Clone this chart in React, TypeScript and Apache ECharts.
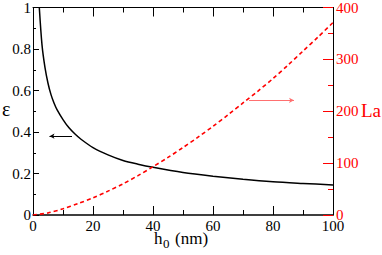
import React, { useEffect, useRef } from "react";
import * as echarts from "echarts";

const h0Eps = [2.1, 3, 4, 5, 6, 7, 8, 10, 12, 14, 16, 20, 25, 30, 35, 40, 50, 60, 70, 80, 90, 100];
const epsValues = [1.0, 0.82, 0.71, 0.635, 0.58, 0.54, 0.508, 0.46, 0.42, 0.39, 0.365, 0.325, 0.29, 0.263, 0.245, 0.23, 0.205, 0.187, 0.172, 0.16, 0.152, 0.145];
const h0La = [0, 5, 10, 15, 20, 25, 30, 35, 40, 45, 50, 55, 60, 65, 70, 75, 80, 85, 90, 95, 100];
const laValues = [0, 4, 12, 22, 33, 46, 60, 76, 93, 111, 130, 150, 171, 193, 216, 239, 263, 289, 316, 343, 371];
const xTicks = { min: 0, max: 100, interval: 20 };
const epsAxis = { min: 0, max: 1, interval: 0.2 };
const laAxis = { min: 0, max: 400, interval: 100 };

const SERIF = "Liberation Serif";

export default function App() {
  const ref = useRef<HTMLDivElement>(null);
  useEffect(() => {
    if (!ref.current) return;
    const chart = echarts.init(ref.current, null, { renderer: "svg" });
    const epsData = h0Eps.map((x, i) => [x, epsValues[i]]);
    const laData = h0La.map((x, i) => [x, laValues[i]]);
    chart.setOption({
      animation: false,
      backgroundColor: "#fff",
      textStyle: { fontFamily: SERIF },
      grid: { left: 33, right: 49, top: 6, bottom: 40, containLabel: false },
      xAxis: [
        {
          type: "value",
          position: "bottom",
          ...xTicks,
          axisLine: { show: true, lineStyle: { color: "#000", width: 1.5 } },
          axisTick: { show: true, inside: true, length: 9, lineStyle: { color: "#000" } },
          minorTick: { show: true, splitNumber: 2, length: 5, lineStyle: { color: "#000" } },
          splitLine: { show: false },
          axisLabel: { color: "#000", fontFamily: SERIF, fontSize: 15, margin: 3 },
        },
        {
          type: "value",
          position: "top",
          ...xTicks,
          axisLine: { show: true, onZero: false, lineStyle: { color: "#000", width: 1 } },
          axisTick: { show: true, inside: true, length: 9, lineStyle: { color: "#000" } },
          minorTick: { show: true, splitNumber: 2, length: 5, lineStyle: { color: "#000" } },
          splitLine: { show: false },
          axisLabel: { show: false },
        },
      ],
      yAxis: [
        {
          type: "value",
          position: "left",
          ...epsAxis,
          axisLine: { show: true, onZero: false, lineStyle: { color: "#000", width: 1 } },
          axisTick: { show: true, inside: true, length: 6, lineStyle: { color: "#000" } },
          minorTick: { show: true, splitNumber: 2, length: 3, lineStyle: { color: "#000" } },
          splitLine: { show: false },
          axisLabel: {
            color: "#000",
            fontFamily: SERIF,
            fontSize: 15,
            margin: 2,
            formatter: (v: number) => String(Math.round(v * 10) / 10),
          },
        },
        {
          type: "value",
          position: "right",
          ...laAxis,
          axisLine: { show: true, onZero: false, lineStyle: { color: "#000", width: 1 } },
          axisTick: { show: true, inside: true, length: 10, lineStyle: { color: "#ff0000" } },
          minorTick: { show: true, splitNumber: 2, length: 5, lineStyle: { color: "#ff0000" } },
          splitLine: { show: false },
          axisLabel: { color: "#ff0000", fontFamily: SERIF, fontSize: 15, margin: 3 },
        },
      ],
      series: [
        {
          type: "line",
          xAxisIndex: 0,
          yAxisIndex: 0,
          data: epsData,
          showSymbol: false,
          smooth: 0.3,
          lineStyle: { color: "#000", width: 1.5 },
          clip: true,
          markLine: {
            silent: true,
            symbol: ["none", "arrow"],
            symbolSize: [4, 5],
            label: { show: false },
            lineStyle: { color: "#000", width: 1, type: "solid" },
            data: [[{ coord: [13, 0.38] }, { coord: [5.5, 0.38] }]],
          },
        },
        {
          type: "line",
          xAxisIndex: 0,
          yAxisIndex: 1,
          data: laData,
          showSymbol: false,
          smooth: 0.3,
          lineStyle: { color: "#ff0000", width: 1.6, type: [4, 3] },
          markLine: {
            silent: true,
            symbol: ["none", "arrow"],
            symbolSize: [4, 5],
            label: { show: false },
            lineStyle: { color: "#ff7070", width: 1, type: "solid" },
            data: [[{ coord: [72, 221] }, { coord: [87, 221] }]],
          },
        },
      ],
      graphic: [
        {
          type: "text",
          left: 2,
          top: 99,
          style: { text: "ε", fontFamily: SERIF, fontSize: 20, fill: "#000" },
        },
        {
          type: "text",
          left: 361,
          top: 101,
          style: { text: "La", fontFamily: SERIF, fontSize: 19, fill: "#ff0000" },
        },
        {
          type: "text",
          left: 154,
          top: 230,
          style: { text: "h", fontFamily: SERIF, fontSize: 17, fill: "#000" },
        },
        {
          type: "text",
          left: 163,
          top: 237,
          style: { text: "0", fontFamily: SERIF, fontSize: 13, fill: "#000" },
        },
        {
          type: "text",
          left: 175,
          top: 230,
          style: { text: "(nm)", fontFamily: SERIF, fontSize: 17, fill: "#000" },
        },
      ],
    });
    return () => chart.dispose();
  }, []);
  return <div ref={ref} style={{ width: 382, height: 255, position: "absolute", left: 0, top: 0 }} />;
}
